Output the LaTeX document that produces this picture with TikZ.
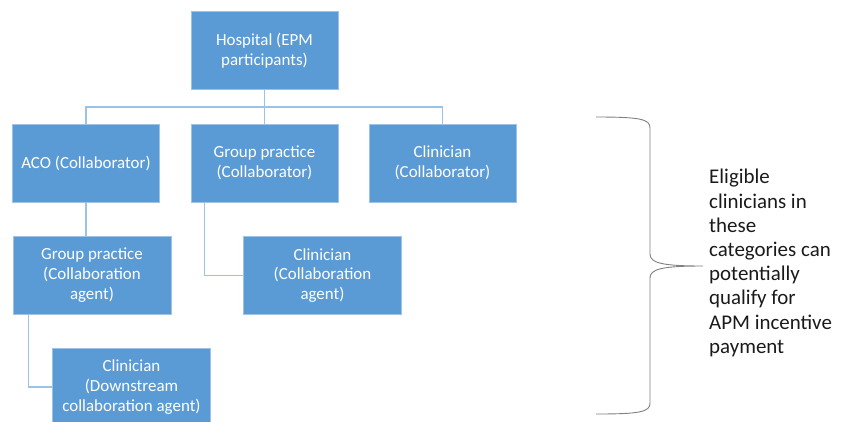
\documentclass[tikz,border=0pt]{standalone}
\usepackage{fontspec}
\setmainfont{Carlito}
\usepackage{xcolor}
\definecolor{boxblue}{HTML}{5B9BD5}
\definecolor{edgeblue}{HTML}{9DC3E6}
\definecolor{linkblue}{HTML}{9CC2E5}
\definecolor{bracegrey}{HTML}{808080}
\definecolor{ink}{HTML}{1A1A1A}
\usepackage{tikz}
\usetikzlibrary{positioning,calc}
\tikzset{
  orgbox/.style={draw=edgeblue,line width=0.8pt,fill=boxblue,align=center,
    text=white,inner sep=0pt,minimum width=147bp,minimum height=78bp,
    font=\fontsize{17}{20}\selectfont},
  widebox/.style={orgbox,minimum width=158bp},
  link/.style={draw=linkblue,line width=1.5pt},
  brace/.style={draw=bracegrey,line width=0.9pt},
  note/.style={align=left,anchor=west,inner sep=0pt,text=ink,
    font=\fontsize{21}{24.3}\selectfont}}

\begin{document}
\begin{tikzpicture}[x=1bp,y=-1bp]
  \useasboundingbox (0,0) rectangle (847,421);
  \node[orgbox] (hosp) at (264.5,50.5) {Hospital (EPM\\participants)};
  \node[orgbox] (aco) at (86,163) {ACO (Collaborator)};
  \node[orgbox] (gpc) at (264.5,163) {Group practice\\(Collaborator)};
  \node[orgbox] (clc) at (442.5,163) {Clinician\\(Collaborator)};
  \node[widebox] (gpa) at (92,275.5) {Group practice\\(Collaboration\\agent)};
  \node[widebox] (cla) at (322.5,275.5) {Clinician\\(Collaboration\\agent)};
  \node[widebox] (cld) at (131.5,387) {Clinician\\(Downstream\\collaboration agent)};
  \coordinate (bus) at (264.5,107);
  \draw[link] (hosp.south) -- (gpc.north);
  \draw[link] (aco.north) -- (aco.north |- bus) -- (clc.north |- bus) -- (clc.north);
  \draw[link] (aco.south) -- (aco.south |- gpa.north);
  \draw[link] ([xshift=14bp]gpc.south west) |- (cla.west);
  \draw[link] ([xshift=16bp]gpa.south west) |- (cld.west);
  \coordinate (btop) at (596,117);
  \coordinate (btip) at (703,266);
  \coordinate (bbot) at (596,414);
  \draw[brace] (btop) .. controls (640,117) and (650,119) .. (650,128) -- (650,254)
    .. controls (650,263) and (662,266) .. (btip)
    .. controls (662,266) and (650,269) .. (650,278) -- (650,403)
    .. controls (650,412) and (640,414) .. (bbot);
  \node[note] (elig) at (709,263) {Eligible\\clinicians in\\these\\categories can\\potentially\\qualify for\\APM incentive\\payment};
\end{tikzpicture}
\end{document}
